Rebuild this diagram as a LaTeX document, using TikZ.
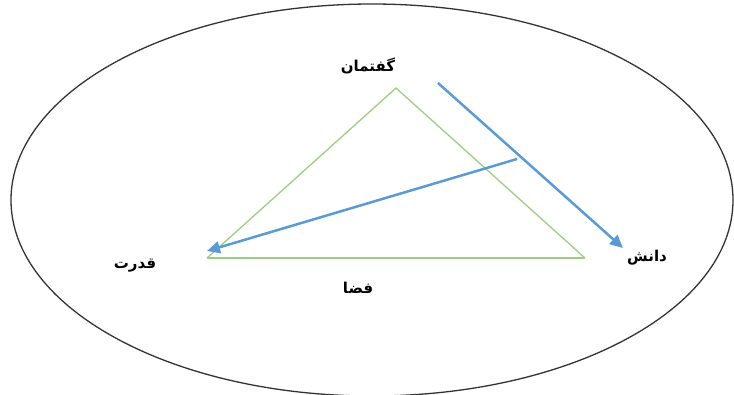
\documentclass[tikz,border=0pt]{standalone}
\usepackage{fontspec}
\usepackage{tikz}
\usetikzlibrary{arrows.meta}
\TeXXeTstate=1
\newfontfamily\arabicfont[Script=Arabic]{DejaVu Sans}
\definecolor{edgegreen}{RGB}{160,204,130}
\definecolor{flowblue}{RGB}{91,155,213}
\tikzset{
  lbl/.style={font=\arabicfont\bfseries\fontsize{15}{18}\selectfont, inner sep=1pt},
  side/.style={edgegreen, line width=1.3pt},
  flow/.style={flowblue, line width=2.5pt, -{Triangle[length=13pt,width=12pt]}}
}
\begin{document}
\begin{tikzpicture}[x=1pt,y=-1pt]
\useasboundingbox (0,0) rectangle (734,394);
\draw [black!80, line width=1.3pt] (372,200) ellipse [x radius=361, y radius=196];
\coordinate (top) at (396,88);
\coordinate (lft) at (207,258);
\coordinate (rgt) at (585,258);
\draw [side] (lft) -- (top) -- (rgt);
\draw [side, line width=2.5pt] (lft) -- (rgt);
\coordinate (s1) at (438,83);
\coordinate (e1) at (623,248);
\coordinate (s2) at (517,159);
\coordinate (e2) at (207,251);
\draw [flow] (s1) -- (e1);
\draw [flow] (s2) -- (e2);
\node [lbl] (discourse) at (368,66) {\beginR گفتمان\endR};
\node [lbl] (knowledge) at (647,258) {\beginR دانش\endR};
\node [lbl] (power) at (135,266) {\beginR قدرت\endR};
\node [lbl] (space) at (358,288) {\beginR فضا\endR};
\end{tikzpicture}
\end{document}
